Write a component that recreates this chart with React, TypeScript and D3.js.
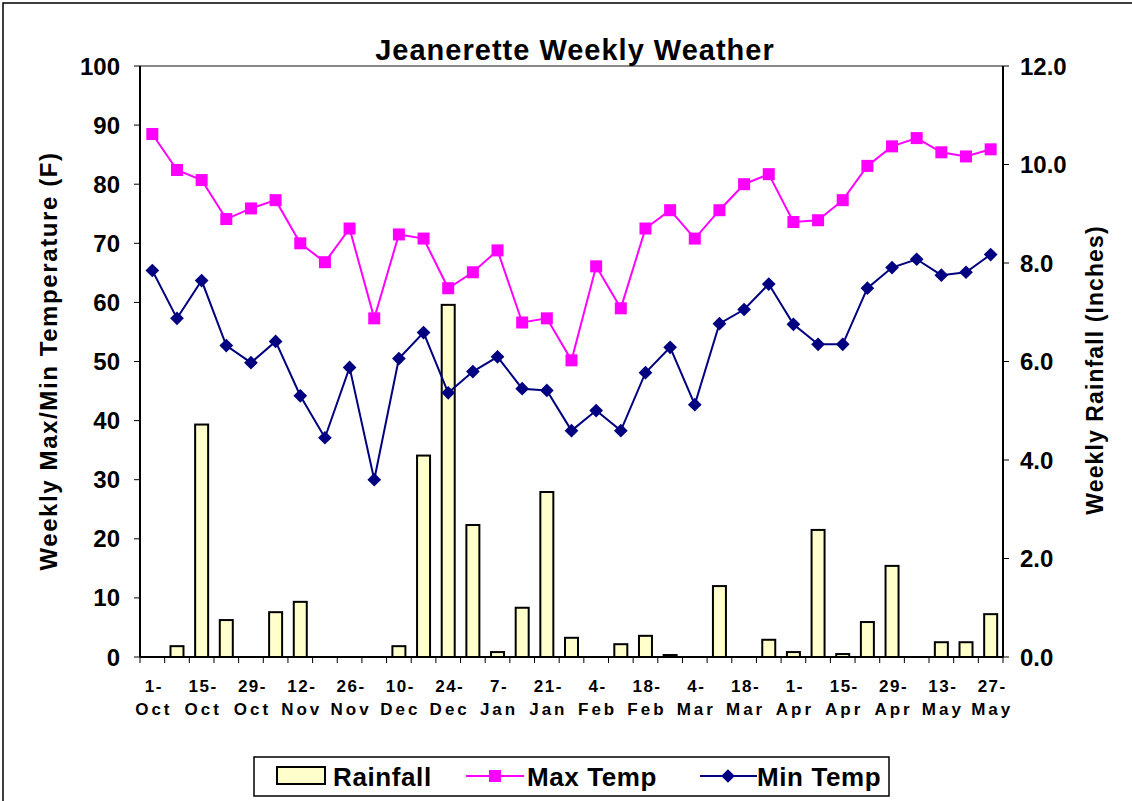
import React, { useEffect, useRef } from 'react';
import * as d3 from 'd3';

const weeks = [
  '1-Oct', '8-Oct', '15-Oct', '22-Oct', '29-Oct', '5-Nov', '12-Nov', '19-Nov', '26-Nov',
  '3-Dec', '10-Dec', '17-Dec', '24-Dec', '31-Dec', '7-Jan', '14-Jan', '21-Jan', '28-Jan',
  '4-Feb', '11-Feb', '18-Feb', '25-Feb', '4-Mar', '11-Mar', '18-Mar', '25-Mar',
  '1-Apr', '8-Apr', '15-Apr', '22-Apr', '29-Apr', '6-May', '13-May', '20-May', '27-May',
];

const maxTemp = [
  88.5, 82.4, 80.7, 74.1, 75.9, 77.3, 70.0, 66.8, 72.5, 57.3, 71.5, 70.8, 62.4, 65.1, 68.8,
  56.6, 57.3, 50.2, 66.1, 59.0, 72.5, 75.6, 70.8, 75.6, 80.0, 81.7, 73.6, 73.9, 77.3, 83.1,
  86.4, 87.8, 85.4, 84.7, 85.9,
];

const minTemp = [
  65.4, 57.3, 63.7, 52.7, 49.8, 53.4, 44.2, 37.1, 49.0, 30.0, 50.5, 54.9, 44.7, 48.3, 50.8,
  45.4, 45.1, 38.3, 41.7, 38.3, 48.1, 52.4, 42.7, 56.4, 58.8, 63.1, 56.3, 52.9, 52.9, 62.4,
  65.9, 67.3, 64.6, 65.1, 68.1,
];

const rainfall = [
  0, 0.22, 4.72, 0.75, 0, 0.91, 1.12, 0, 0, 0, 0.22, 4.09, 7.15, 2.68, 0.1, 1.0, 3.35, 0.39,
  0, 0.26, 0.43, 0.04, 0, 1.44, 0, 0.35, 0.1, 2.58, 0.06, 0.71, 1.85, 0, 0.3, 0.3, 0.87,
];

const tempTicks = [0, 10, 20, 30, 40, 50, 60, 70, 80, 90, 100];
const rainTicks = [0, 2, 4, 6, 8, 10, 12];

const FONT = 'Arial, "Liberation Sans", sans-serif';

const App = () => {
  const svgRef = useRef(null);

  useEffect(() => {
    const svg = d3.select(svgRef.current);
    svg.selectAll('*').remove();

    const left = 140;
    const right = 1003;
    const top = 66;
    const bottom = 657;

    const x = d3.scaleBand().domain(weeks).range([left, right]);
    const bw = x.bandwidth();
    const cx = (i) => x(weeks[i]) + bw / 2;
    const yT = d3.scaleLinear().domain([0, 100]).range([bottom, top]);
    const yR = d3.scaleLinear().domain([0, 12]).range([bottom, top]);

    // outer frame
    svg.append('rect')
      .attr('x', 3).attr('y', 3).attr('width', 1140).attr('height', 820)
      .attr('fill', 'white').attr('stroke', '#000').attr('stroke-width', 1.5);

    // plot top border
    svg.append('line')
      .attr('x1', left).attr('x2', right).attr('y1', top).attr('y2', top)
      .attr('stroke', '#888').attr('stroke-width', 2);

    // title
    svg.append('text')
      .attr('x', 575).attr('y', 60)
      .attr('text-anchor', 'middle')
      .attr('font-family', FONT).attr('font-weight', 'bold').attr('font-size', 29)
      .attr('letter-spacing', 1.0)
      .text('Jeanerette Weekly Weather');

    // bars
    svg.append('g').selectAll('rect')
      .data(rainfall)
      .enter().append('rect')
      .attr('x', (d, i) => cx(i) - 6.5)
      .attr('width', 13)
      .attr('y', d => yR(d))
      .attr('height', d => bottom - yR(d))
      .attr('fill', '#FFFFCC')
      .attr('stroke', '#000')
      .attr('stroke-width', d => (d > 0 ? 2 : 0));

    // lines
    const line = d3.line().x((d, i) => cx(i)).y(d => yT(d));
    svg.append('path').datum(maxTemp)
      .attr('fill', 'none').attr('stroke', '#FF00FF').attr('stroke-width', 2)
      .attr('d', line);
    svg.append('path').datum(minTemp)
      .attr('fill', 'none').attr('stroke', '#000080').attr('stroke-width', 2)
      .attr('d', line);

    svg.append('g').selectAll('rect')
      .data(maxTemp)
      .enter().append('rect')
      .attr('x', (d, i) => cx(i) - 6)
      .attr('y', d => yT(d) - 6)
      .attr('width', 12).attr('height', 12)
      .attr('fill', '#FF00FF');

    const diamond = d3.symbol().type(d3.symbolDiamond2).size(120);
    svg.append('g').selectAll('path')
      .data(minTemp)
      .enter().append('path')
      .attr('transform', (d, i) => `translate(${cx(i)},${yT(d)})`)
      .attr('d', diamond)
      .attr('fill', '#000080');

    // axes
    const axisG = svg.append('g').attr('stroke', '#000').attr('stroke-width', 2);
    axisG.append('line').attr('x1', left).attr('x2', left).attr('y1', top).attr('y2', bottom);
    axisG.append('line').attr('x1', right).attr('x2', right).attr('y1', top).attr('y2', bottom);
    axisG.append('line').attr('x1', left).attr('x2', right).attr('y1', bottom).attr('y2', bottom);

    svg.append('g').selectAll('line')
      .data(tempTicks)
      .enter().append('line')
      .attr('x1', left - 6).attr('x2', left)
      .attr('y1', d => yT(d)).attr('y2', d => yT(d))
      .attr('stroke', '#000').attr('stroke-width', 1);

    svg.append('g').selectAll('line')
      .data(rainTicks)
      .enter().append('line')
      .attr('x1', right).attr('x2', right + 6)
      .attr('y1', d => yR(d)).attr('y2', d => yR(d))
      .attr('stroke', '#000').attr('stroke-width', 1);

    // category ticks on band edges
    const edges = weeks.map(w => x(w)).concat([right]);
    svg.append('g').selectAll('line')
      .data(edges)
      .enter().append('line')
      .attr('x1', d => d).attr('x2', d => d)
      .attr('y1', bottom).attr('y2', bottom + 6)
      .attr('stroke', '#000').attr('stroke-width', 1);

    svg.append('g').selectAll('text')
      .data(tempTicks)
      .enter().append('text')
      .attr('x', 120).attr('y', d => yT(d) + 8.5)
      .attr('text-anchor', 'end')
      .attr('font-family', FONT).attr('font-weight', 'bold').attr('font-size', 24)
      .text(d => d);

    svg.append('g').selectAll('text')
      .data(rainTicks)
      .enter().append('text')
      .attr('x', 1020).attr('y', d => yR(d) + 8.5)
      .attr('text-anchor', 'start')
      .attr('font-family', FONT).attr('font-weight', 'bold').attr('font-size', 24)
      .text(d => d.toFixed(1));

    // category labels (every other week)
    const labG = svg.append('g')
      .attr('font-family', FONT).attr('font-weight', 'bold').attr('font-size', 17)
      .attr('text-anchor', 'middle');
    weeks.forEach((w, i) => {
      if (i % 2 !== 0) return;
      const [day, mon] = w.split('-');
      labG.append('text')
        .attr('x', cx(i) + 1.5).attr('y', 692)
        .attr('letter-spacing', 1.5)
        .text(`${day}-`);
      labG.append('text')
        .attr('x', cx(i) + 1.5).attr('y', 715)
        .attr('letter-spacing', 3)
        .text(mon);
    });

    // axis titles
    svg.append('text')
      .attr('transform', 'translate(57,361) rotate(-90)')
      .attr('text-anchor', 'middle')
      .attr('font-family', FONT).attr('font-weight', 'bold').attr('font-size', 24)
      .attr('letter-spacing', 1.6)
      .text('Weekly Max/Min Temperature (F)');

    svg.append('text')
      .attr('transform', 'translate(1103,370) rotate(-90)')
      .attr('text-anchor', 'middle')
      .attr('font-family', FONT).attr('font-weight', 'bold').attr('font-size', 23)
      .attr('letter-spacing', 1.1)
      .text('Weekly Rainfall (Inches)');

    // legend
    const lg = svg.append('g');
    lg.append('rect')
      .attr('x', 254).attr('y', 757).attr('width', 635).attr('height', 39)
      .attr('fill', 'white').attr('stroke', '#000').attr('stroke-width', 1.5);
    lg.append('rect')
      .attr('x', 277).attr('y', 767).attr('width', 48).attr('height', 17)
      .attr('fill', '#FFFFCC').attr('stroke', '#000').attr('stroke-width', 2);
    const legText = (tx, label) => lg.append('text')
      .attr('x', tx).attr('y', 786)
      .attr('font-family', FONT).attr('font-weight', 'bold').attr('font-size', 26)
      .attr('letter-spacing', 0.6)
      .text(label);
    legText(333, 'Rainfall');
    lg.append('line').attr('x1', 466).attr('x2', 524).attr('y1', 776).attr('y2', 776)
      .attr('stroke', '#FF00FF').attr('stroke-width', 2);
    lg.append('rect').attr('x', 489).attr('y', 770).attr('width', 12).attr('height', 12)
      .attr('fill', '#FF00FF');
    legText(527, 'Max Temp');
    lg.append('line').attr('x1', 700).attr('x2', 757).attr('y1', 776).attr('y2', 776)
      .attr('stroke', '#000080').attr('stroke-width', 2);
    lg.append('path').attr('transform', 'translate(728,776)').attr('d', diamond)
      .attr('fill', '#000080');
    legText(757, 'Min Temp');
  }, []);

  return (
    <svg
      ref={svgRef}
      width={1132}
      height={801}
      style={{ position: 'absolute', left: 0, top: 0, background: 'white' }}
    ></svg>
  );
};

export default App;
